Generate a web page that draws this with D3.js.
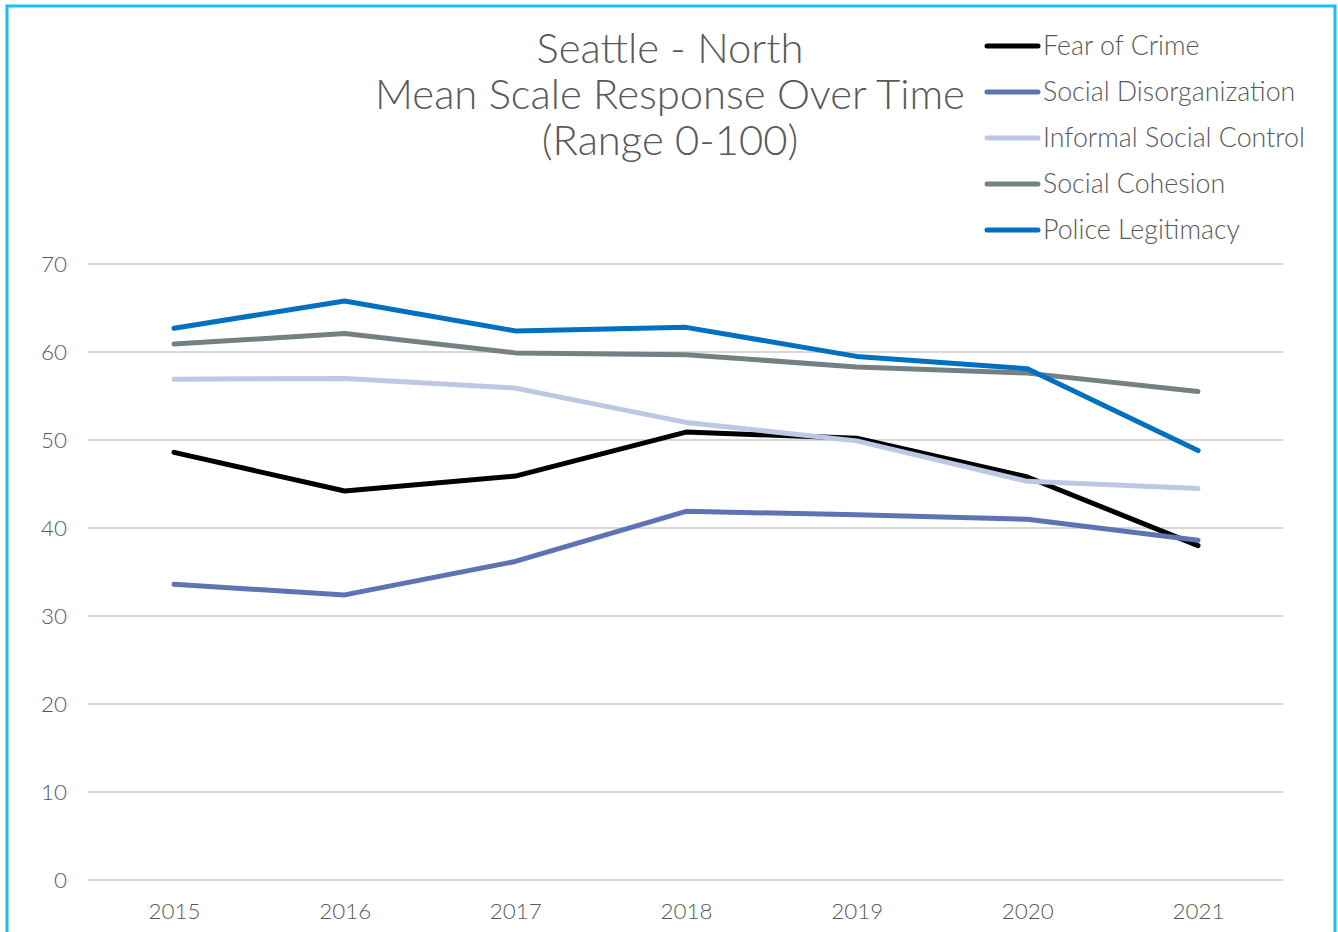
<!DOCTYPE html>
<html>
<head>
<meta charset="utf-8">
<script src="https://cdn.jsdelivr.net/npm/d3@7"></script>
<style>
  html, body { margin: 0; padding: 0; background: #fff; }
  svg { display: block; }
</style>
</head>
<body>
<script>
// ---- data ----
const years = ["2015", "2016", "2017", "2018", "2019", "2020", "2021"];
const fearOfCrime = [48.6, 44.2, 45.9, 50.9, 50.2, 45.8, 38.0];
const socialDisorganization = [33.6, 32.4, 36.2, 41.9, 41.5, 41.0, 38.6];
const informalSocialControl = [56.9, 57.0, 55.9, 52.0, 49.9, 45.3, 44.5];
const socialCohesion = [60.9, 62.1, 59.9, 59.7, 58.3, 57.6, 55.5];
const policeLegitimacy = [62.7, 65.8, 62.4, 62.8, 59.5, 58.1, 48.8];
const seriesNames = ["Fear of Crime", "Social Disorganization", "Informal Social Control", "Social Cohesion", "Police Legitimacy"];
const seriesColors = ["#000000", "#5E72B4", "#BFC8E2", "#758084", "#0070C0"];
const yTicks = [0, 10, 20, 30, 40, 50, 60, 70];
const titleLines = ["Seattle - North", "Mean Scale Response Over Time", "(Range 0-100)"];

const series = [fearOfCrime, socialDisorganization, informalSocialControl, socialCohesion, policeLegitimacy]
  .map((v, i) => ({ name: seriesNames[i], color: seriesColors[i], values: v }));

const W = 1338, H = 932;
const FONT = "Lato, 'Open Sans', sans-serif";
const WEIGHT = 300;
const TXT = "#595959";

const svg = d3.select("body").append("svg").attr("width", W).attr("height", H);

// border
svg.append("rect").attr("x", 7).attr("y", 6).attr("width", 1328).attr("height", 940)
  .attr("fill", "#fff").attr("stroke", "#1AC0F2").attr("stroke-width", 3);

// fit helper: font size so a string spans target width
function fitSize(str, target) {
  const t = svg.append("text").attr("font-family", FONT).attr("font-weight", WEIGHT)
    .attr("font-size", 100).text(str);
  const w = t.node().getComputedTextLength();
  t.remove();
  return 100 * target / w;
}

const x = d3.scalePoint().domain(years).range([174, 1198]);
const y = d3.scaleLinear().domain([0, 70]).range([880, 264]);

// gridlines
svg.append("g").selectAll("line").data(yTicks).join("line")
  .attr("x1", 88).attr("x2", 1283)
  .attr("y1", d => y(d)).attr("y2", d => y(d))
  .attr("stroke", "#D9D9D9").attr("stroke-width", 2);

// y axis labels
const yAxis = d3.axisLeft(y).tickValues(yTicks).tickSize(0).tickPadding(0);
const tickSize = fitSize("2015", 52);
const yg = svg.append("g").attr("transform", "translate(67,0)").call(yAxis);
yg.select(".domain").remove();
yg.selectAll("text").attr("font-family", FONT).attr("font-weight", WEIGHT)
  .attr("font-size", tickSize).attr("fill", TXT);

// x axis labels
const xAxis = d3.axisBottom(x).tickSize(0).tickPadding(0);
const xg = svg.append("g").attr("transform", "translate(0,903)").call(xAxis);
xg.select(".domain").remove();
xg.selectAll("text").attr("font-family", FONT).attr("font-weight", WEIGHT)
  .attr("font-size", tickSize).attr("fill", TXT);

// lines
const line = d3.line().x((d, i) => x(years[i])).y(d => y(d));
svg.append("g").selectAll("path").data(series).join("path")
  .attr("d", d => line(d.values))
  .attr("fill", "none").attr("stroke", d => d.color)
  .attr("stroke-width", 5).attr("stroke-linecap", "round").attr("stroke-linejoin", "round");

// title
const titleSize = fitSize(titleLines[1], 590);
svg.append("g").selectAll("text").data(titleLines).join("text")
  .attr("x", 670).attr("y", (d, i) => 63 + i * 46)
  .attr("text-anchor", "middle").attr("font-family", FONT).attr("font-weight", WEIGHT)
  .attr("font-size", titleSize).attr("fill", TXT).text(d => d);

// legend
const legSize = fitSize("Informal Social Control", 262);
const leg = svg.append("g").selectAll("g").data(series).join("g")
  .attr("transform", (d, i) => `translate(0,${46 + i * 46})`);
leg.append("line").attr("x1", 987).attr("x2", 1038).attr("y1", 0).attr("y2", 0)
  .attr("stroke", d => d.color).attr("stroke-width", 5).attr("stroke-linecap", "round");
leg.append("text").attr("x", 1043).attr("y", 0).attr("dy", "0.35em")
  .attr("font-family", FONT).attr("font-weight", WEIGHT)
  .attr("font-size", legSize).attr("fill", TXT).text(d => d.name);
</script>
</body>
</html>
